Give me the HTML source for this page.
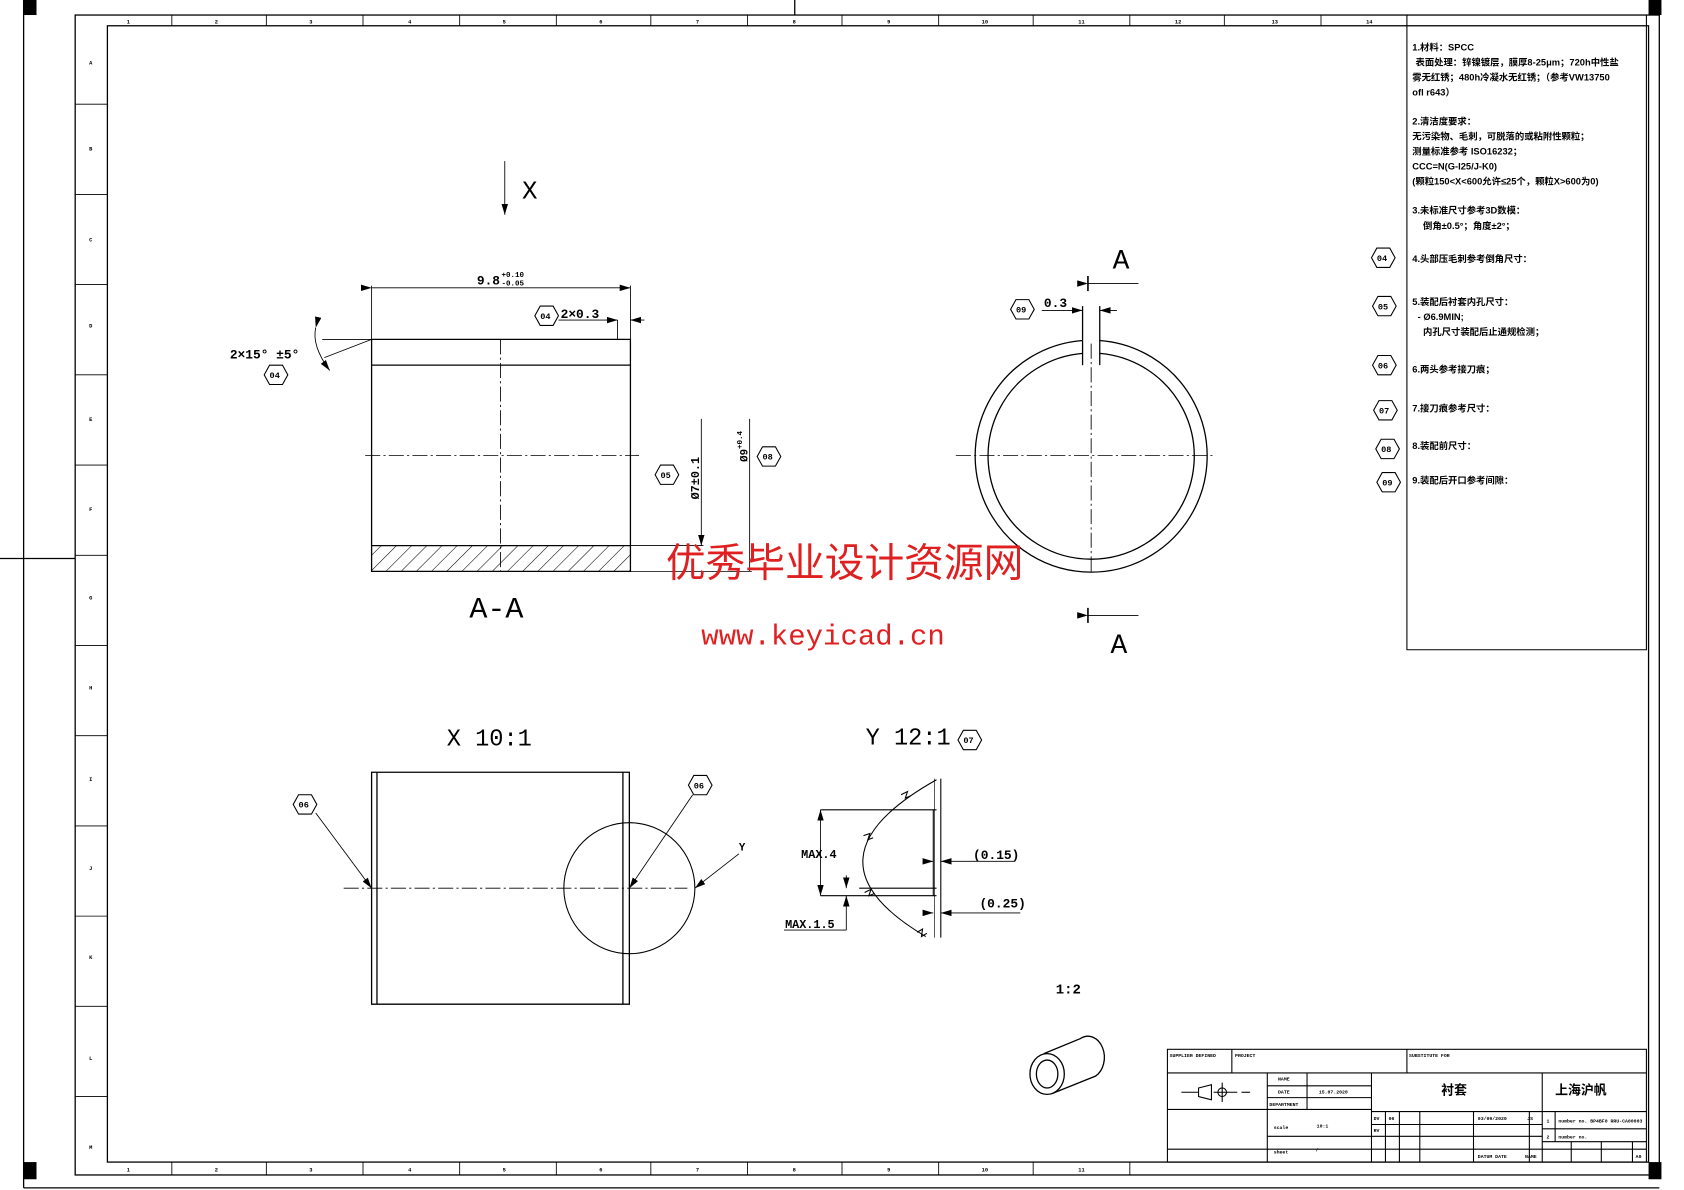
<!DOCTYPE html>
<html><head><meta charset="utf-8"><style>
html,body{margin:0;padding:0;background:#fff;}
svg{display:block}
text{font-family:"Liberation Mono","Noto Sans CJK SC",monospace;fill:#000;font-weight:bold}
.cn{font-family:"Liberation Sans","Noto Sans CJK SC",sans-serif}
</style></head><body>
<svg width="1684" height="1190" viewBox="0 0 1568 1108" preserveAspectRatio="none" xmlns="http://www.w3.org/2000/svg">
<defs>
<marker id="ar" markerWidth="10" markerHeight="6" refX="10" refY="3" orient="auto" markerUnits="userSpaceOnUse"><path d="M0,0 L10,3 L0,6 z" fill="#000"/></marker>
<pattern id="hat" width="10" height="10" patternUnits="userSpaceOnUse" patternTransform="rotate(45)"><line x1="0" y1="0" x2="0" y2="10" stroke="#000" stroke-width="1"/></pattern>
<g id="hex"><polygon points="-11,0 -6,-9 6,-9 11,0 6,9 -6,9" fill="#fff" stroke="#000" stroke-width="1"/></g>
</defs>
<g fill="none" stroke="#000" stroke-width="1.2">
<rect x="70" y="14" width="1475" height="1080"/>
<rect x="100" y="24" width="1435" height="1058"/>
<line x1="22" y1="0" x2="22" y2="1106"/>
<line x1="22" y1="1106" x2="1545" y2="1106"/>
<line x1="0" y1="520" x2="70" y2="520"/>
<line x1="740" y1="0" x2="740" y2="14"/>
</g>
<g fill="#000">
<rect x="22" y="0" width="12" height="14"/><rect x="1535" y="0" width="12" height="14"/>
<rect x="22" y="1082" width="12" height="16"/><rect x="1535" y="1082" width="12" height="16"/>
</g>
<g stroke="#000" stroke-width="0.8">
<line x1="160" y1="14" x2="160" y2="24"/><line x1="248" y1="14" x2="248" y2="24"/><line x1="338" y1="14" x2="338" y2="24"/><line x1="428" y1="14" x2="428" y2="24"/><line x1="518" y1="14" x2="518" y2="24"/><line x1="606" y1="14" x2="606" y2="24"/><line x1="696" y1="14" x2="696" y2="24"/><line x1="784" y1="14" x2="784" y2="24"/><line x1="874" y1="14" x2="874" y2="24"/><line x1="962" y1="14" x2="962" y2="24"/><line x1="1052" y1="14" x2="1052" y2="24"/><line x1="1140" y1="14" x2="1140" y2="24"/><line x1="1230" y1="14" x2="1230" y2="24"/>
<line x1="160" y1="1082" x2="160" y2="1094"/><line x1="248" y1="1082" x2="248" y2="1094"/><line x1="338" y1="1082" x2="338" y2="1094"/><line x1="428" y1="1082" x2="428" y2="1094"/><line x1="518" y1="1082" x2="518" y2="1094"/><line x1="606" y1="1082" x2="606" y2="1094"/><line x1="696" y1="1082" x2="696" y2="1094"/><line x1="784" y1="1082" x2="784" y2="1094"/><line x1="874" y1="1082" x2="874" y2="1094"/><line x1="962" y1="1082" x2="962" y2="1094"/><line x1="1052" y1="1082" x2="1052" y2="1094"/>
<line x1="70" y1="97" x2="100" y2="97"/><line x1="70" y1="181" x2="100" y2="181"/><line x1="70" y1="265" x2="100" y2="265"/><line x1="70" y1="349" x2="100" y2="349"/><line x1="70" y1="433" x2="100" y2="433"/><line x1="70" y1="517" x2="100" y2="517"/><line x1="70" y1="601" x2="100" y2="601"/><line x1="70" y1="685" x2="100" y2="685"/><line x1="70" y1="769" x2="100" y2="769"/><line x1="70" y1="853" x2="100" y2="853"/><line x1="70" y1="937" x2="100" y2="937"/><line x1="70" y1="1021" x2="100" y2="1021"/>
</g>
<g font-size="5">
<text x="118" y="22">1</text><text x="200" y="22">2</text><text x="288" y="22">3</text><text x="380" y="22">4</text><text x="468" y="22">5</text><text x="558" y="22">6</text><text x="648" y="22">7</text><text x="738" y="22">8</text><text x="826" y="22">9</text><text x="914" y="22">10</text><text x="1004" y="22">11</text><text x="1094" y="22">12</text><text x="1184" y="22">13</text><text x="1272" y="22">14</text>
<text x="118" y="1091">1</text><text x="200" y="1091">2</text><text x="288" y="1091">3</text><text x="380" y="1091">4</text><text x="468" y="1091">5</text><text x="558" y="1091">6</text><text x="648" y="1091">7</text><text x="738" y="1091">8</text><text x="826" y="1091">9</text><text x="914" y="1091">10</text><text x="1004" y="1091">11</text>
<text x="83" y="60">A</text><text x="83" y="140">B</text><text x="83" y="225">C</text><text x="83" y="305">D</text><text x="83" y="392">E</text><text x="83" y="476">F</text><text x="83" y="558">G</text><text x="83" y="642">H</text><text x="83" y="727">I</text><text x="83" y="810">J</text><text x="83" y="893">K</text><text x="83" y="987">L</text><text x="83" y="1070">M</text>
</g>

<g stroke="#000" fill="none" stroke-width="1"><polyline points="1310,14 1310,605 1533,605 1533,14"/></g>
<g class="cn" font-size="8.7">
<text class="cn" x="1315" y="47">1.材料：SPCC</text>
<text class="cn" x="1318" y="61">表面处理：锌镍镀层，膜厚8-25μm；720h中性盐</text>
<text class="cn" x="1315" y="75">雾无红锈；480h冷凝水无红锈；（参考VW13750</text>
<text class="cn" x="1315" y="89">ofl r643）</text>
<text class="cn" x="1315" y="116">2.清洁度要求：</text>
<text class="cn" x="1315" y="130">无污染物、毛刺，可脱落的或粘附性颗粒；</text>
<text class="cn" x="1315" y="144">测量标准参考 ISO16232；</text>
<text class="cn" x="1315" y="158">CCC=N(G-I25/J-K0)</text>
<text class="cn" x="1315" y="172">(颗粒150&lt;X&lt;600允许≤25个，颗粒X&gt;600为0)</text>
<text class="cn" x="1315" y="199">3.未标准尺寸参考3D数模：</text>
<text class="cn" x="1325" y="213">倒角±0.5°；角度±2°；</text>
<text class="cn" x="1315" y="244">4.头部压毛刺参考倒角尺寸：</text>
<text class="cn" x="1315" y="284">5.装配后衬套内孔尺寸：</text>
<text class="cn" x="1320" y="298">- Ø6.9MIN;</text>
<text class="cn" x="1325" y="312">内孔尺寸装配后止通规检测；</text>
<text class="cn" x="1315" y="347">6.两头参考接刀痕；</text>
<text class="cn" x="1315" y="383">7.接刀痕参考尺寸：</text>
<text class="cn" x="1315" y="418">8.装配前尺寸：</text>
<text class="cn" x="1315" y="450">9.装配后开口参考间隙：</text>
</g>
<g font-size="8">
<use href="#hex" x="1288" y="240"/><text x="1282" y="243">04</text>
<use href="#hex" x="1289" y="285"/><text x="1283" y="288">05</text>
<use href="#hex" x="1289" y="340"/><text x="1283" y="343">06</text>
<use href="#hex" x="1290" y="382"/><text x="1284" y="385">07</text>
<use href="#hex" x="1292" y="418"/><text x="1286" y="421">08</text>
<use href="#hex" x="1293" y="449"/><text x="1287" y="452">09</text>
</g>

<!-- A-A section -->
<g stroke="#000" fill="none" stroke-width="1.2">
<rect x="346" y="508" width="241" height="24" fill="url(#hat)" stroke="none"/>
<path d="M346,316 L346,532 L587,532 L587,316 Z"/>
<line x1="346" y1="340" x2="587" y2="340"/>
<line x1="346" y1="508" x2="587" y2="508"/>
<line x1="587" y1="532" x2="700" y2="532" stroke-width="0.8"/>
<line x1="587" y1="508" x2="655" y2="508" stroke-width="0.8"/>
</g>
<g stroke="#000" stroke-width="0.8" fill="none">
<line x1="466" y1="316" x2="466" y2="532" stroke-dasharray="14,3,2,3"/>
<line x1="340" y1="424" x2="595" y2="424" stroke-dasharray="14,3,2,3"/>
<line x1="346" y1="266" x2="346" y2="316"/><line x1="587" y1="266" x2="587" y2="316"/>
<line x1="346" y1="268" x2="587" y2="268" marker-start="url(#ar)" marker-end="url(#ar)"/>
<line x1="575" y1="298" x2="575" y2="316"/>
<line x1="560" y1="298" x2="575" y2="298" marker-end="url(#ar)"/>
<line x1="600" y1="298" x2="587" y2="298" marker-end="url(#ar)"/>
<line x1="520" y1="298" x2="560" y2="298"/>
<line x1="300" y1="316" x2="346" y2="316"/>
<line x1="302" y1="333" x2="346" y2="316"/>
<path d="M294,305 Q290,322 307,345" marker-start="url(#ar)" marker-end="url(#ar)"/>
<line x1="653" y1="390" x2="653" y2="508" marker-end="url(#ar)"/>
<line x1="698" y1="390" x2="698" y2="532"/>
<line x1="470" y1="150" x2="470" y2="200" marker-end="url(#ar)"/>
</g>
<text x="486" y="185" font-size="24" style="font-weight:normal">X</text>
<text x="444" y="265" font-size="12">9.8</text><text x="467" y="258" font-size="7">+0.10</text><text x="467" y="266" font-size="7">-0.05</text>
<use href="#hex" x="509" y="294"/><text x="503" y="297" font-size="8">04</text>
<text x="522" y="296" font-size="12">2×0.3</text>
<text x="214" y="334" font-size="12">2×15° ±5°</text>
<use href="#hex" x="257" y="349"/><text x="251" y="352" font-size="8">04</text>
<use href="#hex" x="621" y="442"/><text x="615" y="445" font-size="8">05</text>
<text x="0" y="0" font-size="11" transform="translate(651,465) rotate(-90)">Ø7±0.1</text>
<text x="0" y="0" font-size="10" transform="translate(696,430) rotate(-90)">Ø9<tspan font-size="7" dy="-5">+0.4</tspan></text>
<use href="#hex" x="716" y="425"/><text x="710" y="428" font-size="8">08</text>
<text x="437" y="575" font-size="28" style="font-weight:normal">A-A</text>

<!-- circle view -->
<g stroke="#000" fill="none" stroke-width="1.2">
<path d="M1008,317 A108,108 0 1,0 1024,317"/>
<path d="M1008,329 A96,96 0 1,0 1024,329"/>
<line x1="1008" y1="285" x2="1008" y2="340"/><line x1="1024" y1="285" x2="1024" y2="340"/>
</g>
<g stroke="#000" stroke-width="0.8" fill="none">
<line x1="890" y1="424" x2="1130" y2="424" stroke-dasharray="14,3,2,3"/>
<line x1="1016" y1="320" x2="1016" y2="535" stroke-dasharray="14,3,2,3"/>
<line x1="970" y1="289" x2="1008" y2="289" marker-end="url(#ar)"/>
<line x1="1040" y1="289" x2="1024" y2="289" marker-end="url(#ar)"/>
<line x1="1013" y1="257" x2="1013" y2="271" stroke-width="1.5"/><line x1="1013" y1="264" x2="1060" y2="264" marker-start="url(#ar)"/>
<line x1="1013" y1="566" x2="1013" y2="580" stroke-width="1.5"/><line x1="1013" y1="573" x2="1060" y2="573" marker-start="url(#ar)"/>
</g>
<text x="1036" y="250" font-size="26" style="font-weight:normal">A</text>
<text x="1034" y="608" font-size="26" style="font-weight:normal">A</text>
<use href="#hex" x="952" y="288"/><text x="946" y="291" font-size="8">09</text>
<text x="972" y="286" font-size="12">0.3</text>

<!-- watermark -->
<text x="620" y="537" font-size="37" class="cn" style="fill:#e02020;font-weight:normal" font-family="Noto Serif CJK SC">优秀毕业设计资源网</text>
<text x="653" y="600" font-size="27" style="fill:#e02020;font-weight:normal" font-family="Liberation Serif">www.keyicad.cn</text>

<!-- X 10:1 -->
<text x="416" y="694" font-size="22" style="font-weight:normal">X 10:1</text>
<g stroke="#000" fill="none" stroke-width="1.2">
<path d="M346,719 L586,719 L586,935 L346,935 Z"/>
<line x1="351" y1="719" x2="351" y2="935"/><line x1="580" y1="719" x2="580" y2="935"/>
<circle cx="586" cy="827" r="61" stroke-width="1"/>
</g>
<g stroke="#000" stroke-width="0.8" fill="none">
<line x1="320" y1="827" x2="640" y2="827" stroke-dasharray="14,3,2,3"/>
<line x1="294" y1="757" x2="346" y2="827" marker-end="url(#ar)"/>
<line x1="645" y1="740" x2="586" y2="827" marker-end="url(#ar)"/>
<line x1="688" y1="795" x2="647" y2="827" marker-end="url(#ar)"/>
</g>
<use href="#hex" x="284" y="749"/><text x="278" y="752" font-size="8">06</text>
<use href="#hex" x="652" y="731"/><text x="646" y="734" font-size="8">06</text>
<text x="688" y="792" font-size="10">Y</text>

<!-- Y 12:1 -->
<text x="806" y="693" font-size="22" style="font-weight:normal">Y 12:1</text>
<use href="#hex" x="903" y="689"/><text x="897" y="692" font-size="8">07</text>
<g stroke="#000" fill="none" stroke-width="1">
<path d="M872,726 Q740,800 862,872"/>
<line x1="876" y1="725" x2="876" y2="873"/><line x1="870" y1="725" x2="870" y2="873" stroke-width="0.6"/>
<line x1="764" y1="754" x2="872" y2="754"/><line x1="764" y1="834" x2="872" y2="834"/>
<line x1="800" y1="827" x2="872" y2="827"/>
<line x1="869" y1="754" x2="869" y2="834"/>
<path d="M839,740 l6,-3 -2,6 5,-2"/><path d="M804,778 l6,-2 -2,6 5,-2"/><path d="M805,831 l6,-3 -2,6 5,-2"/><path d="M854,868 l5,-3 -1,7 5,-3"/>
</g>
<g stroke="#000" stroke-width="0.8" fill="none">
<line x1="764" y1="800" x2="764" y2="754" marker-end="url(#ar)"/><line x1="764" y1="800" x2="764" y2="834" marker-end="url(#ar)"/>
<line x1="788" y1="815" x2="788" y2="827" marker-end="url(#ar)"/><line x1="788" y1="848" x2="788" y2="834" marker-end="url(#ar)"/>
<line x1="788" y1="848" x2="788" y2="866"/><line x1="730" y1="866" x2="788" y2="866"/>
<line x1="860" y1="802" x2="869" y2="802" marker-end="url(#ar)"/><line x1="885" y1="802" x2="876" y2="802" marker-end="url(#ar)"/><line x1="885" y1="802" x2="945" y2="802"/>
<line x1="860" y1="850" x2="869" y2="850" marker-end="url(#ar)"/><line x1="885" y1="850" x2="876" y2="850" marker-end="url(#ar)"/><line x1="885" y1="850" x2="950" y2="850"/>
</g>
<text x="746" y="799" font-size="11">MAX.4</text>
<text x="731" y="864" font-size="11">MAX.1.5</text>
<text x="906" y="800" font-size="12">(0.15)</text>
<text x="912" y="845" font-size="12">(0.25)</text>

<!-- 1:2 iso -->
<text x="983" y="925" font-size="13">1:2</text>
<g stroke="#000" fill="none" stroke-width="1.2">
<ellipse cx="975" cy="1000" rx="16" ry="19"/>
<ellipse cx="975" cy="1000" rx="10" ry="13"/>
<path d="M972,981 L1006,967 A14,18 0 0,1 1020,1002 L980,1018"/>
</g>

<!-- title block -->
<g stroke="#000" fill="none" stroke-width="1">
<rect x="1087" y="977" width="446" height="105"/>
<line x1="1087" y1="999" x2="1533" y2="999"/>
<line x1="1147" y1="977" x2="1147" y2="999"/><line x1="1310" y1="977" x2="1310" y2="999"/>
<line x1="1087" y1="1033" x2="1277" y2="1033"/>
<line x1="1180" y1="999" x2="1180" y2="1082"/>
<line x1="1180" y1="1011" x2="1277" y2="1011"/><line x1="1180" y1="1022" x2="1277" y2="1022"/>
<line x1="1217" y1="999" x2="1217" y2="1033"/>
<line x1="1277" y1="999" x2="1277" y2="1082"/>
<line x1="1436" y1="999" x2="1436" y2="1082"/>
<line x1="1180" y1="1058" x2="1277" y2="1058"/>
<line x1="1087" y1="1070" x2="1533" y2="1070"/>
<line x1="1277" y1="1035" x2="1436" y2="1035"/><line x1="1277" y1="1047" x2="1436" y2="1047"/><line x1="1277" y1="1058" x2="1436" y2="1058"/>
<line x1="1290" y1="1035" x2="1290" y2="1082"/><line x1="1303" y1="1035" x2="1303" y2="1082"/><line x1="1322" y1="1035" x2="1322" y2="1082"/><line x1="1372" y1="1035" x2="1372" y2="1082"/><line x1="1424" y1="1035" x2="1424" y2="1082"/>
<line x1="1436" y1="1035" x2="1533" y2="1035"/><line x1="1436" y1="1051" x2="1533" y2="1051"/><line x1="1436" y1="1063" x2="1533" y2="1063"/>
<line x1="1448" y1="1035" x2="1448" y2="1063"/>
<line x1="1463" y1="1063" x2="1463" y2="1082"/><line x1="1491" y1="1063" x2="1491" y2="1082"/><line x1="1520" y1="1063" x2="1520" y2="1082"/>
<line x1="1100" y1="1017" x2="1116" y2="1017"/><path d="M1116,1013 L1128,1010 L1128,1024 L1116,1021 Z"/><circle cx="1138" cy="1017" r="4"/><line x1="1130" y1="1017" x2="1152" y2="1017"/><line x1="1138" y1="1008" x2="1138" y2="1026"/><line x1="1156" y1="1017" x2="1164" y2="1017"/>
</g>
<g font-size="4.5">
<text x="1089" y="984">SUPPLIER DEFINED</text><text x="1150" y="984">PROJECT</text><text x="1312" y="984">SUBSTITUTE FOR</text>
<text x="1190" y="1006">NAME</text><text x="1190" y="1018">DATE</text><text x="1182" y="1030">DEPARTMENT</text>
<text x="1228" y="1018">15.07.2020</text>
<text x="1186" y="1051">scale</text><text x="1226" y="1050">10:1</text>
<text x="1186" y="1074">sheet</text><text x="1225" y="1072">/</text>
<text x="1279" y="1043">DV</text><text x="1293" y="1043">06</text><text x="1279" y="1054">RV</text>
<text x="1376" y="1043">03/09/2020</text><text x="1422" y="1043">JS</text>
<text x="1376" y="1078">DATUM DATE</text><text x="1420" y="1078">NAME</text>
<text x="1440" y="1045">1</text><text x="1440" y="1060">2</text><text x="1523" y="1078">A0</text>
<text x="1451" y="1045">number no.   BP4BF0 RRU-CA00003</text><text x="1451" y="1060">number no.</text>
</g>
<text class="cn" x="1342" y="1019" font-size="12">衬套</text>
<text class="cn" x="1448" y="1019" font-size="12">上海沪帆</text>
</svg>
</body></html>
